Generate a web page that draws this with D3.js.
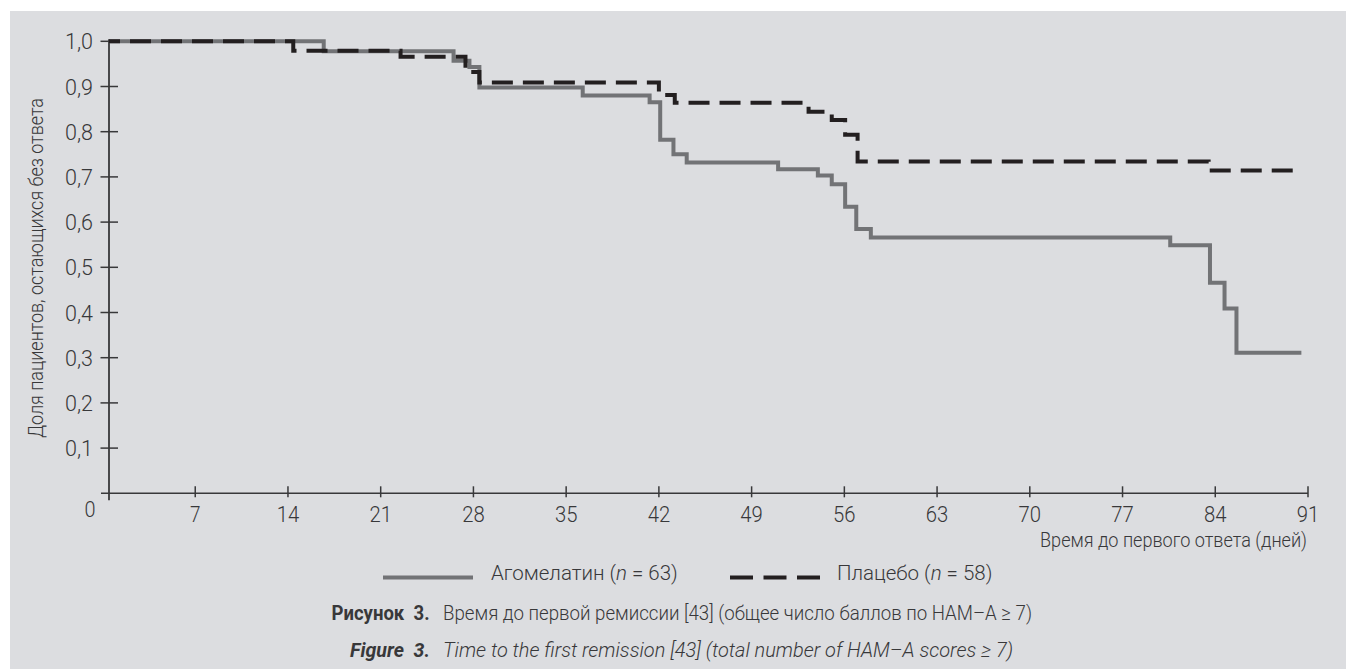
<!DOCTYPE html>
<html>
<head>
<meta charset="utf-8">
<script src="https://cdn.jsdelivr.net/npm/d3@7"></script>
<style>
  html, body { margin: 0; padding: 0; background: #ffffff; }
  svg { display: block; }
  text { font-family: "Roboto", "Liberation Sans", sans-serif; fill: #38383a; }
</style>
</head>
<body>
<svg id="chart" width="1346" height="670"></svg>
<script>
// Kaplan–Meier step data: day of each step and proportion still without response
const agoDays = [0, 16.7, 26.5, 27.7, 28.45, 36.25, 41.3, 42.1, 43.1, 44.1, 51.0, 54.0, 55.05, 56.06, 56.9, 58.0, 80.6, 83.6, 84.7, 85.6, 90.5];
const agoSurv = [1.0, 0.978, 0.957, 0.943, 0.898, 0.880, 0.865, 0.782, 0.750, 0.732, 0.717, 0.703, 0.684, 0.634, 0.585, 0.566, 0.549, 0.466, 0.409, 0.311, 0.311];

const plaDays = [0, 14.4, 22.5, 27.4, 28.45, 42.0, 43.2, 53.3, 55.05, 56.06, 57.0, 83.5, 90.6];
const plaSurv = [1.0, 0.979, 0.966, 0.932, 0.909, 0.881, 0.864, 0.844, 0.826, 0.793, 0.734, 0.714, 0.714];

const xTicks = [7, 14, 21, 28, 35, 42, 49, 56, 63, 70, 77, 84, 91];
const yTicks = [0.1, 0.2, 0.3, 0.4, 0.5, 0.6, 0.7, 0.8, 0.9, 1.0];

const seriesNames = ["Агомелатин", "Плацебо"];
const seriesN = [63, 58];

const xTitle = "Время до первого ответа (дней)";
const yTitle = "Доля пациентов, остающихся без ответа";
const captionRu = ["Рисунок  3.", "Время до первой ремиссии [43] (общее число баллов по HAM–A ≥ 7)"];
const captionEn = ["Figure  3.", "Time to the first remission [43] (total number of HAM–A scores ≥ 7)"];

const svg = d3.select("#chart");
const W = 1346, H = 670;

// panel background
svg.append("rect").attr("x", 10).attr("y", 11).attr("width", W - 10).attr("height", H - 12)
  .attr("fill", "#dcdde0");

const x = d3.scaleLinear().domain([0, 91]).range([102.5, 1308]);
const y = d3.scaleLinear().domain([0, 1]).range([493.3, 41.3]);
const axisX = x(0) + 6.5;   // vertical axis sits just right of the day-0 origin
const axisColor = "#38383a";

// condensed text: glyphs squeezed to a given run length
function fitted(sel, len) {
  return sel.attr("textLength", len).attr("lengthAdjust", "spacingAndGlyphs");
}

// axes lines
svg.append("line").attr("x1", axisX).attr("x2", axisX).attr("y1", y(1) - 2).attr("y2", y(0) + 7)
  .attr("stroke", axisColor).attr("stroke-width", 1.8);
svg.append("line").attr("x1", x(0) - 1.5).attr("x2", x(91)).attr("y1", y(0)).attr("y2", y(0))
  .attr("stroke", axisColor).attr("stroke-width", 1.6);

// y ticks (crossing the axis) and labels
const fmt = v => d3.format(".1f")(v).replace(".", ",");
const yg = svg.append("g");
yg.selectAll("line").data(yTicks).join("line")
  .attr("x1", axisX - 8.5).attr("x2", d => d === 1 ? axisX : axisX + 9)
  .attr("y1", d => y(d)).attr("y2", d => y(d))
  .attr("stroke", axisColor).attr("stroke-width", 1.5);
yg.selectAll("text").data(yTicks).join("text")
  .attr("x", axisX - 16).attr("y", d => y(d) + 8)
  .attr("text-anchor", "end").attr("font-size", 22).style("font-weight", 300)
  .call(fitted, 28)
  .text(fmt);

// x ticks and labels
const xg = svg.append("g");
xg.selectAll("line").data(xTicks).join("line")
  .attr("x1", d => x(d)).attr("x2", d => x(d))
  .attr("y1", y(0) - 7).attr("y2", y(0) + 4)
  .attr("stroke", axisColor).attr("stroke-width", 1.5);
xg.selectAll("text").data(xTicks).join("text")
  .attr("x", d => x(d)).attr("y", y(0) + 28.5)
  .attr("text-anchor", "middle").attr("font-size", 22).style("font-weight", 300)
  .attr("textLength", d => String(d).length === 1 ? 10.5 : 22.5).attr("lengthAdjust", "spacingAndGlyphs")
  .text(d => d);
// shared origin label
svg.append("text").attr("x", axisX - 19).attr("y", y(0) + 23.5)
  .attr("text-anchor", "middle").attr("font-size", 22).style("font-weight", 300)
  .call(fitted, 11).text("0");

// axis titles
svg.append("text").attr("x", 1307).attr("y", 547)
  .attr("text-anchor", "end").attr("font-size", 20).style("font-weight", 300)
  .call(fitted, 267).text(xTitle);
svg.append("text")
  .attr("transform", `translate(43, ${(98 + 438) / 2}) rotate(-90)`)
  .attr("text-anchor", "middle").attr("font-size", 20).style("font-weight", 300)
  .call(fitted, 340).text(yTitle);

// step curves
const stepLine = d3.line()
  .x(d => Math.max(x(d[0]), axisX))
  .y(d => y(d[1]))
  .curve(d3.curveStepAfter);

const agoPts = agoDays.map((d, i) => [d, agoSurv[i]]);
const plaPts = plaDays.map((d, i) => [d, plaSurv[i]]);

const styles = [
  { stroke: "#727376", dash: null },
  { stroke: "#231f20", dash: "21,10" }
];

svg.append("path").datum(agoPts).attr("d", stepLine)
  .attr("fill", "none").attr("stroke", styles[0].stroke).attr("stroke-width", 4)
  .attr("stroke-linejoin", "miter");
svg.append("path").datum(plaPts).attr("d", stepLine)
  .attr("fill", "none").attr("stroke", styles[1].stroke).attr("stroke-width", 4)
  .attr("stroke-dasharray", styles[1].dash).attr("stroke-dashoffset", 10)
  .attr("stroke-linejoin", "miter");

// legend
const legendItems = [
  { x1: 383, x2: 473, tx: 491, dash: null },
  { x1: 730, x2: 820, tx: 837, dash: "23,10.5" }
];
const lg = svg.append("g");
legendItems.forEach((it, i) => {
  lg.append("line").attr("x1", it.x1).attr("x2", it.x2).attr("y1", 577.5).attr("y2", 577.5)
    .attr("stroke", styles[i].stroke).attr("stroke-width", 4)
    .attr("stroke-dasharray", it.dash);
  const t = lg.append("text").attr("x", it.tx).attr("y", 580).attr("font-size", 20.5)
    .style("font-weight", 300);
  t.append("tspan").text(seriesNames[i] + " (");
  t.append("tspan").style("font-style", "italic").text("n");
  t.append("tspan").text(" = " + seriesN[i] + ")");
});

// captions: bold figure number, then the title text
const capRows = [
  { base: 620, bx: 331.5, blen: 98, tx: 443, tlen: 589, italic: false, parts: captionRu },
  { base: 656.5, bx: 350, blen: 80, tx: 443, tlen: 570, italic: true, parts: captionEn }
];
capRows.forEach(r => {
  svg.append("text").attr("x", r.bx).attr("y", r.base).attr("font-size", 20)
    .style("font-weight", 700).style("font-style", r.italic ? "italic" : "normal")
    .attr("xml:space", "preserve")
    .call(fitted, r.blen).text(r.parts[0]);
  svg.append("text").attr("x", r.tx).attr("y", r.base).attr("font-size", 20)
    .style("font-weight", 300).style("font-style", r.italic ? "italic" : "normal")
    .call(fitted, r.tlen).text(r.parts[1]);
});
</script>
</body>
</html>
